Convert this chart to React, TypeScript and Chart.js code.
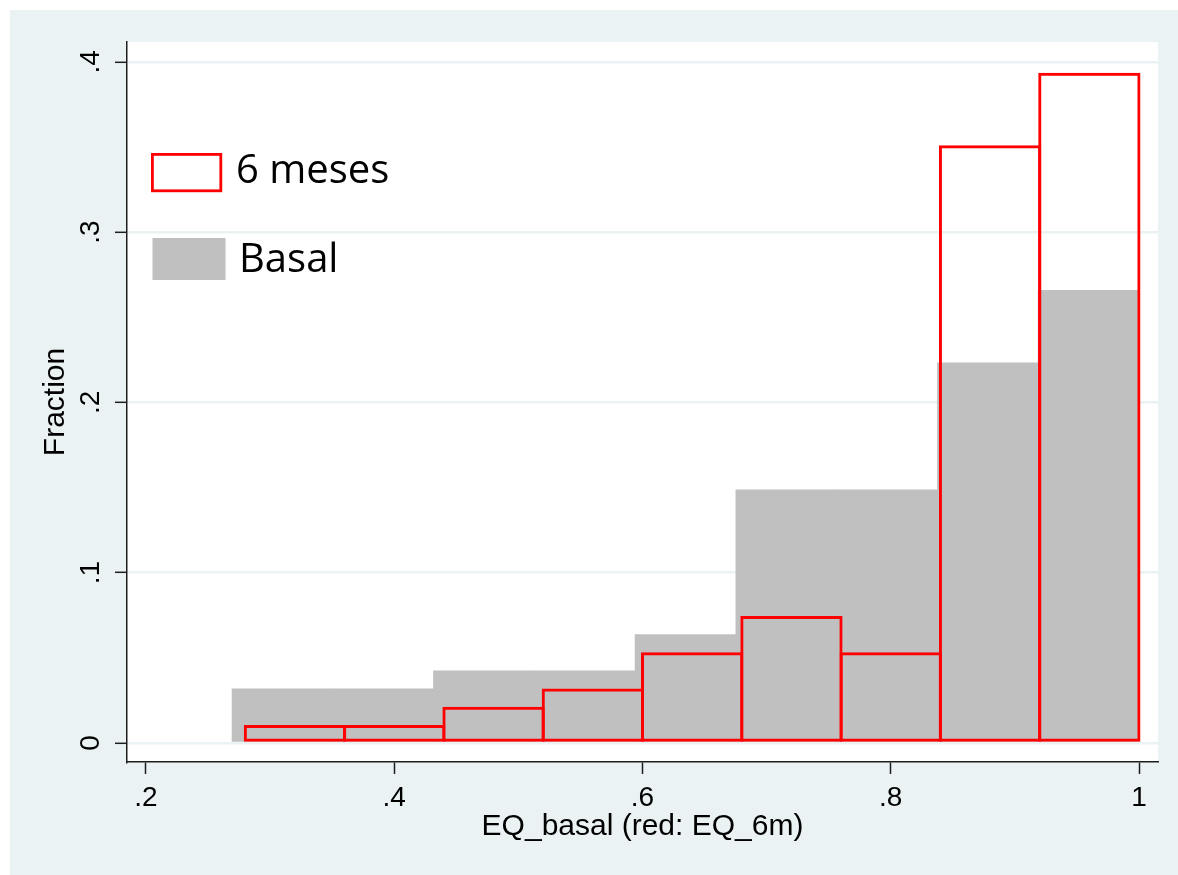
import React, { useEffect, useRef } from 'react';
import { Chart, registerables } from 'chart.js';

Chart.register(...registerables);

// ---- data ----
const seriesLabels = ['6 meses', 'Basal'];
const sixMonthCenters = [0.32, 0.40, 0.48, 0.56, 0.64, 0.72, 0.80, 0.88, 0.96];
const sixMonthFractions = [0.0106, 0.0106, 0.0213, 0.0319, 0.0532, 0.0745, 0.0532, 0.3511, 0.3936];
const basalCenters = [0.3100, 0.3912, 0.4723, 0.5535, 0.6347, 0.7159, 0.7971, 0.8783, 0.9594];
const basalFractions = [0.0319, 0.0319, 0.0426, 0.0426, 0.0638, 0.1489, 0.1489, 0.2234, 0.2660];
const xTickValues = [0.2, 0.4, 0.6, 0.8, 1];
const xTickLabels = ['.2', '.4', '.6', '.8', '1'];
const yTickValues = [0, 0.1, 0.2, 0.3, 0.4];
const yTickLabels = ['0', '.1', '.2', '.3', '.4'];
const xTitle = 'EQ_basal (red: EQ_6m)';
const yTitle = 'Fraction';

const BG = '#EAF2F3';
const AXIS = '#1e1e1e';
const RED = '#FF0000';
const GRAY = '#C0C0C0';
const TICK_FONT = { family: '"Liberation Sans", Arial, sans-serif', size: 28 };
const TITLE_FONT = { family: '"Liberation Sans", Arial, sans-serif', size: 30 };

const background = {
  id: 'stataBackground',
  beforeDraw(chart: any) {
    const { ctx, chartArea } = chart;
    ctx.save();
    ctx.fillStyle = BG;
    ctx.fillRect(0, 0, chart.width, chart.height);
    ctx.fillStyle = '#FFFFFF';
    ctx.fillRect(chartArea.left, chartArea.top, chartArea.right - chartArea.left, chartArea.bottom - chartArea.top);
    ctx.restore();
  },
};

const insideLegend = {
  id: 'insideLegend',
  afterDatasetsDraw(chart: any) {
    const { ctx } = chart;
    const ds = chart.data.datasets;
    ctx.save();
    ctx.font = '40px "Open Sans", sans-serif';
    ctx.textBaseline = 'alphabetic';
    ctx.fillStyle = '#000';
    // first entry: outlined box
    ctx.strokeStyle = ds[0].borderColor;
    ctx.lineWidth = 2.8;
    ctx.strokeRect(142.4, 144.4, 68.4, 36.4);
    ctx.fillText(ds[0].label, 226, 173);
    // second entry: filled box
    ctx.fillStyle = ds[1].backgroundColor;
    ctx.fillRect(142.5, 228, 73, 42);
    ctx.fillStyle = '#000';
    ctx.fillText(ds[1].label, 229, 262);
    ctx.restore();
  },
};

export default function App() {
  const canvasRef = useRef<HTMLCanvasElement | null>(null);

  useEffect(() => {
    const canvas = canvasRef.current;
    if (!canvas) return;
    const chart = new Chart(canvas, {
      type: 'bar',
      data: {
        datasets: [
          {
            label: seriesLabels[0],
            data: sixMonthCenters.map((x, i) => ({ x, y: sixMonthFractions[i] })),
            backgroundColor: 'rgba(0,0,0,0)',
            borderColor: RED,
            borderWidth: 3,
            borderSkipped: false,
            barPercentage: 1.03,
            categoryPercentage: 1,
            grouped: false,
            xAxisID: 'x',
            yAxisID: 'y',
          } as any,
          {
            label: seriesLabels[1],
            data: basalCenters.map((x, i) => ({ x, y: basalFractions[i] })),
            backgroundColor: GRAY,
            borderWidth: 0,
            barPercentage: 1.01,
            categoryPercentage: 1,
            grouped: false,
            xAxisID: 'x2',
            yAxisID: 'y',
          } as any,
        ],
      },
      options: {
        responsive: false,
        animation: false,
        devicePixelRatio: 1,
        layout: { padding: { top: 32, right: 20, left: 0, bottom: 0 } },
        plugins: {
          legend: { display: false },
          tooltip: { enabled: false },
        },
        scales: {
          x: {
            type: 'linear',
            position: 'bottom',
            min: 0.1847,
            max: 1.0153,
            offset: false,
            afterBuildTicks: (axis: any) => {
              axis.ticks = xTickValues.map((v) => ({ value: v }));
            },
            afterFit: (axis: any) => {
              axis.height = 113;
            },
            ticks: {
              autoSkip: false,
              maxRotation: 0,
              minRotation: 0,
              padding: 7,
              color: '#000',
              font: TICK_FONT,
              callback: (_v: any, i: number) => xTickLabels[i],
            },
            grid: {
              offset: false,
              drawOnChartArea: false,
              drawTicks: true,
              tickLength: 12,
              tickColor: AXIS,
              tickWidth: 1.5,
            },
            border: { display: true, color: AXIS, width: 1.5 },
            title: {
              display: true,
              text: xTitle,
              color: '#000',
              font: TITLE_FONT,
              padding: { top: 0, bottom: 30 },
            },
          },
          x2: {
            type: 'linear',
            position: 'bottom',
            display: false,
            min: 0.1847,
            max: 1.0153,
            offset: false,
            afterBuildTicks: (axis: any) => {
              axis.ticks = xTickValues.map((v) => ({ value: v }));
            },
            grid: { offset: false },
          },
          y: {
            type: 'linear',
            position: 'left',
            min: -0.0112,
            max: 0.4117,
            afterBuildTicks: (axis: any) => {
              axis.ticks = yTickValues.map((v) => ({ value: v }));
            },
            afterFit: (axis: any) => {
              axis.width = 117;
            },
            ticks: {
              autoSkip: false,
              minRotation: 90,
              maxRotation: 90,
              crossAlign: 'center',
              padding: 12,
              color: '#000',
              font: TICK_FONT,
              callback: (_v: any, i: number) => yTickLabels[i],
            },
            grid: {
              color: BG,
              lineWidth: 2.6,
              drawOnChartArea: true,
              drawTicks: true,
              tickLength: 12,
              tickColor: AXIS,
              tickWidth: 1.5,
            },
            border: { display: true, color: AXIS, width: 1.5 },
            title: {
              display: true,
              text: yTitle,
              color: '#000',
              font: TITLE_FONT,
              padding: { top: 28, bottom: 0 },
            },
          },
        },
      } as any,
      plugins: [background, insideLegend],
    });
    return () => chart.destroy();
  }, []);

  return (
    <div style={{ position: 'fixed', left: 10, top: 10, width: 1168, height: 865 }}>
      <canvas ref={canvasRef} width={1168} height={865} style={{ display: 'block', width: 1168, height: 865 }} />
    </div>
  );
}
